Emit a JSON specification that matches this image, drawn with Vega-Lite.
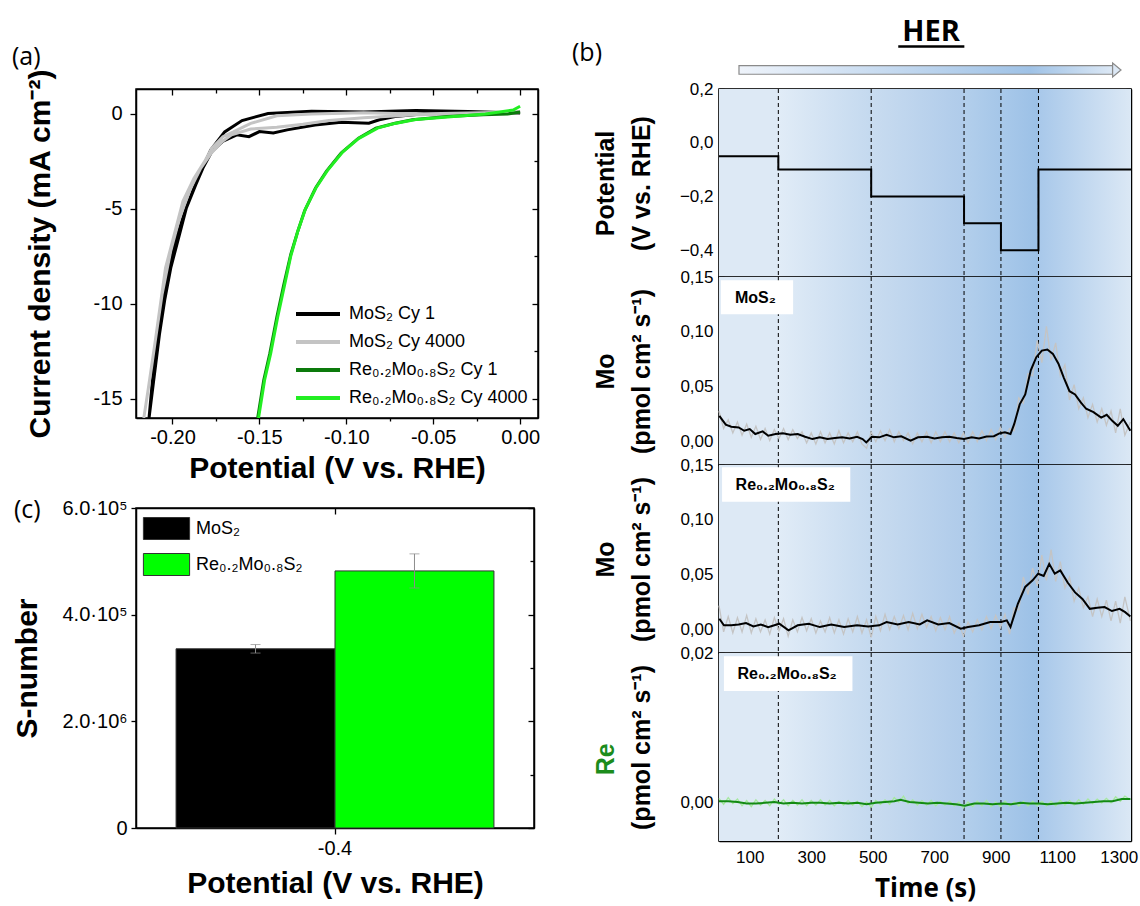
{
 "$schema": "https://vega.github.io/schema/vega-lite/v6.json",
 "background": "white",
 "padding": {"left": 11, "top": 16, "right": 5, "bottom": 10},
 "datasets": {
  "iv": [
   {"curve":"MoS₂ Cy 1","ord":1,"E":0.0,"j":0.05},{"curve":"MoS₂ Cy 1","ord":2,"E":-0.03,"j":0.12},{"curve":"MoS₂ Cy 1","ord":3,"E":-0.06,"j":0.18},{"curve":"MoS₂ Cy 1","ord":4,"E":-0.09,"j":0.1},{"curve":"MoS₂ Cy 1","ord":5,"E":-0.12,"j":0.14},{"curve":"MoS₂ Cy 1","ord":6,"E":-0.145,"j":0.02},{"curve":"MoS₂ Cy 1","ord":7,"E":-0.16,"j":-0.35},{"curve":"MoS₂ Cy 1","ord":8,"E":-0.17,"j":-0.95},{"curve":"MoS₂ Cy 1","ord":9,"E":-0.178,"j":-1.9},{"curve":"MoS₂ Cy 1","ord":10,"E":-0.185,"j":-3.3},{"curve":"MoS₂ Cy 1","ord":11,"E":-0.192,"j":-4.9},{"curve":"MoS₂ Cy 1","ord":12,"E":-0.198,"j":-6.6},{"curve":"MoS₂ Cy 1","ord":13,"E":-0.203,"j":-8.6},{"curve":"MoS₂ Cy 1","ord":14,"E":-0.207,"j":-10.6},{"curve":"MoS₂ Cy 1","ord":15,"E":-0.2105,"j":-13.0},{"curve":"MoS₂ Cy 1","ord":16,"E":-0.2135,"j":-16.0},{"curve":"MoS₂ Cy 1","ord":17,"E":-0.2108,"j":-14.0},{"curve":"MoS₂ Cy 1","ord":18,"E":-0.2075,"j":-11.6},{"curve":"MoS₂ Cy 1","ord":19,"E":-0.2045,"j":-9.8},{"curve":"MoS₂ Cy 1","ord":20,"E":-0.201,"j":-8.1},{"curve":"MoS₂ Cy 1","ord":21,"E":-0.196,"j":-6.35},{"curve":"MoS₂ Cy 1","ord":22,"E":-0.192,"j":-4.95},{"curve":"MoS₂ Cy 1","ord":23,"E":-0.1866,"j":-3.72},{"curve":"MoS₂ Cy 1","ord":24,"E":-0.1825,"j":-2.85},{"curve":"MoS₂ Cy 1","ord":25,"E":-0.1774,"j":-1.98},{"curve":"MoS₂ Cy 1","ord":26,"E":-0.1712,"j":-1.45},{"curve":"MoS₂ Cy 1","ord":27,"E":-0.163,"j":-1.1},{"curve":"MoS₂ Cy 1","ord":28,"E":-0.156,"j":-1.2},{"curve":"MoS₂ Cy 1","ord":29,"E":-0.15,"j":-0.93},{"curve":"MoS₂ Cy 1","ord":30,"E":-0.142,"j":-1.0},{"curve":"MoS₂ Cy 1","ord":31,"E":-0.134,"j":-0.84},{"curve":"MoS₂ Cy 1","ord":32,"E":-0.118,"j":-0.58},{"curve":"MoS₂ Cy 1","ord":33,"E":-0.103,"j":-0.44},{"curve":"MoS₂ Cy 1","ord":34,"E":-0.087,"j":-0.49},{"curve":"MoS₂ Cy 1","ord":35,"E":-0.081,"j":-0.31},{"curve":"MoS₂ Cy 1","ord":36,"E":-0.072,"j":-0.14},{"curve":"MoS₂ Cy 1","ord":37,"E":-0.052,"j":0.03},{"curve":"MoS₂ Cy 1","ord":38,"E":-0.031,"j":0.03},{"curve":"MoS₂ Cy 1","ord":39,"E":0.0,"j":0.08},
   {"curve":"MoS₂ Cy 4000","ord":1,"E":0.0,"j":0.1},{"curve":"MoS₂ Cy 4000","ord":2,"E":-0.03,"j":0.05},{"curve":"MoS₂ Cy 4000","ord":3,"E":-0.06,"j":0.0},{"curve":"MoS₂ Cy 4000","ord":4,"E":-0.09,"j":0.06},{"curve":"MoS₂ Cy 4000","ord":5,"E":-0.12,"j":0.0},{"curve":"MoS₂ Cy 4000","ord":6,"E":-0.14,"j":-0.1},{"curve":"MoS₂ Cy 4000","ord":7,"E":-0.155,"j":-0.5},{"curve":"MoS₂ Cy 4000","ord":8,"E":-0.165,"j":-0.95},{"curve":"MoS₂ Cy 4000","ord":9,"E":-0.171,"j":-1.2},{"curve":"MoS₂ Cy 4000","ord":10,"E":-0.1774,"j":-1.8},{"curve":"MoS₂ Cy 4000","ord":11,"E":-0.1815,"j":-2.5},{"curve":"MoS₂ Cy 4000","ord":12,"E":-0.1877,"j":-3.4},{"curve":"MoS₂ Cy 4000","ord":13,"E":-0.194,"j":-4.6},{"curve":"MoS₂ Cy 4000","ord":14,"E":-0.199,"j":-6.35},{"curve":"MoS₂ Cy 4000","ord":15,"E":-0.204,"j":-8.1},{"curve":"MoS₂ Cy 4000","ord":16,"E":-0.208,"j":-10.7},{"curve":"MoS₂ Cy 4000","ord":17,"E":-0.212,"j":-13.3},{"curve":"MoS₂ Cy 4000","ord":18,"E":-0.2165,"j":-16.0},{"curve":"MoS₂ Cy 4000","ord":19,"E":-0.214,"j":-14.5},{"curve":"MoS₂ Cy 4000","ord":20,"E":-0.21,"j":-12.0},{"curve":"MoS₂ Cy 4000","ord":21,"E":-0.206,"j":-9.5},{"curve":"MoS₂ Cy 4000","ord":22,"E":-0.201,"j":-7.2},{"curve":"MoS₂ Cy 4000","ord":23,"E":-0.196,"j":-5.5},{"curve":"MoS₂ Cy 4000","ord":24,"E":-0.19,"j":-4.0},{"curve":"MoS₂ Cy 4000","ord":25,"E":-0.184,"j":-2.9},{"curve":"MoS₂ Cy 4000","ord":26,"E":-0.178,"j":-2.1},{"curve":"MoS₂ Cy 4000","ord":27,"E":-0.172,"j":-1.5},{"curve":"MoS₂ Cy 4000","ord":28,"E":-0.166,"j":-1.1},{"curve":"MoS₂ Cy 4000","ord":29,"E":-0.155,"j":-0.8},{"curve":"MoS₂ Cy 4000","ord":30,"E":-0.14,"j":-0.7},{"curve":"MoS₂ Cy 4000","ord":31,"E":-0.125,"j":-0.55},{"curve":"MoS₂ Cy 4000","ord":32,"E":-0.11,"j":-0.35},{"curve":"MoS₂ Cy 4000","ord":33,"E":-0.09,"j":-0.2},{"curve":"MoS₂ Cy 4000","ord":34,"E":-0.06,"j":-0.05},{"curve":"MoS₂ Cy 4000","ord":35,"E":-0.03,"j":0.0},{"curve":"MoS₂ Cy 4000","ord":36,"E":0.0,"j":0.12},
   {"curve":"Re₀.₂Mo₀.₈S₂ Cy 1","ord":1,"E":0.0,"j":0.1},{"curve":"Re₀.₂Mo₀.₈S₂ Cy 1","ord":2,"E":-0.007,"j":0.0},{"curve":"Re₀.₂Mo₀.₈S₂ Cy 1","ord":3,"E":-0.021,"j":-0.05},{"curve":"Re₀.₂Mo₀.₈S₂ Cy 1","ord":4,"E":-0.042,"j":-0.14},{"curve":"Re₀.₂Mo₀.₈S₂ Cy 1","ord":5,"E":-0.062,"j":-0.31},{"curve":"Re₀.₂Mo₀.₈S₂ Cy 1","ord":6,"E":-0.072,"j":-0.49},{"curve":"Re₀.₂Mo₀.₈S₂ Cy 1","ord":7,"E":-0.083,"j":-0.75},{"curve":"Re₀.₂Mo₀.₈S₂ Cy 1","ord":8,"E":-0.093,"j":-1.28},{"curve":"Re₀.₂Mo₀.₈S₂ Cy 1","ord":9,"E":-0.103,"j":-2.06},{"curve":"Re₀.₂Mo₀.₈S₂ Cy 1","ord":10,"E":-0.1115,"j":-3.02},{"curve":"Re₀.₂Mo₀.₈S₂ Cy 1","ord":11,"E":-0.1177,"j":-3.9},{"curve":"Re₀.₂Mo₀.₈S₂ Cy 1","ord":12,"E":-0.124,"j":-5.1},{"curve":"Re₀.₂Mo₀.₈S₂ Cy 1","ord":13,"E":-0.128,"j":-6.2},{"curve":"Re₀.₂Mo₀.₈S₂ Cy 1","ord":14,"E":-0.132,"j":-7.4},{"curve":"Re₀.₂Mo₀.₈S₂ Cy 1","ord":15,"E":-0.136,"j":-9.0},{"curve":"Re₀.₂Mo₀.₈S₂ Cy 1","ord":16,"E":-0.14,"j":-10.7},{"curve":"Re₀.₂Mo₀.₈S₂ Cy 1","ord":17,"E":-0.144,"j":-12.6},{"curve":"Re₀.₂Mo₀.₈S₂ Cy 1","ord":18,"E":-0.1475,"j":-14.0},{"curve":"Re₀.₂Mo₀.₈S₂ Cy 1","ord":19,"E":-0.151,"j":-16.0},
   {"curve":"Re₀.₂Mo₀.₈S₂ Cy 4000","ord":1,"E":0.0,"j":0.4},{"curve":"Re₀.₂Mo₀.₈S₂ Cy 4000","ord":2,"E":-0.004,"j":0.2},{"curve":"Re₀.₂Mo₀.₈S₂ Cy 4000","ord":3,"E":-0.02,"j":0.0},{"curve":"Re₀.₂Mo₀.₈S₂ Cy 4000","ord":4,"E":-0.04,"j":-0.15},{"curve":"Re₀.₂Mo₀.₈S₂ Cy 4000","ord":5,"E":-0.06,"j":-0.3},{"curve":"Re₀.₂Mo₀.₈S₂ Cy 4000","ord":6,"E":-0.072,"j":-0.5},{"curve":"Re₀.₂Mo₀.₈S₂ Cy 4000","ord":7,"E":-0.082,"j":-0.75},{"curve":"Re₀.₂Mo₀.₈S₂ Cy 4000","ord":8,"E":-0.093,"j":-1.3},{"curve":"Re₀.₂Mo₀.₈S₂ Cy 4000","ord":9,"E":-0.102,"j":-2.0},{"curve":"Re₀.₂Mo₀.₈S₂ Cy 4000","ord":10,"E":-0.111,"j":-3.0},{"curve":"Re₀.₂Mo₀.₈S₂ Cy 4000","ord":11,"E":-0.1175,"j":-3.9},{"curve":"Re₀.₂Mo₀.₈S₂ Cy 4000","ord":12,"E":-0.1235,"j":-5.0},{"curve":"Re₀.₂Mo₀.₈S₂ Cy 4000","ord":13,"E":-0.128,"j":-6.2},{"curve":"Re₀.₂Mo₀.₈S₂ Cy 4000","ord":14,"E":-0.132,"j":-7.5},{"curve":"Re₀.₂Mo₀.₈S₂ Cy 4000","ord":15,"E":-0.1355,"j":-9.0},{"curve":"Re₀.₂Mo₀.₈S₂ Cy 4000","ord":16,"E":-0.1395,"j":-10.7},{"curve":"Re₀.₂Mo₀.₈S₂ Cy 4000","ord":17,"E":-0.1435,"j":-12.6},{"curve":"Re₀.₂Mo₀.₈S₂ Cy 4000","ord":18,"E":-0.147,"j":-14.0},{"curve":"Re₀.₂Mo₀.₈S₂ Cy 4000","ord":19,"E":-0.1505,"j":-16.0}
  ],
  "bars": [
   {"pot":"-0.4","sample":"MoS₂","s":336000,"lo":328000,"hi":344000},
   {"pot":"-0.4","sample":"Re₀.₂Mo₀.₈S₂","s":482000,"lo":450000,"hi":514000}
  ],
  "potential": [
   {"t":0,"E":-0.05},{"t":193,"E":-0.1},{"t":495,"E":-0.2},{"t":797,"E":-0.3},{"t":917,"E":-0.4},{"t":1039,"E":-0.1},{"t":1340,"E":-0.1}
  ],
  "steps": [{"t":193},{"t":495},{"t":797},{"t":917},{"t":1039}],
  "mos2raw": [
   {"t":0,"v":0.028},{"t":15,"v":0.012},{"t":30,"v":0.020},{"t":45,"v":0.008},{"t":60,"v":0.018},{"t":75,"v":0.006},{"t":90,"v":0.016},{"t":105,"v":0.004},{"t":120,"v":0.014},{"t":135,"v":0.002},{"t":150,"v":0.012},{"t":165,"v":0.001},{"t":180,"v":0.011},{"t":195,"v":0.003},{"t":210,"v":0.012},{"t":225,"v":0.002},{"t":240,"v":0.011},{"t":255,"v":0.003},{"t":270,"v":0.009},{"t":285,"v":-0.001},{"t":300,"v":0.008},{"t":315,"v":-0.002},{"t":330,"v":0.009},{"t":345,"v":-0.001},{"t":360,"v":0.008},{"t":375,"v":-0.002},{"t":390,"v":0.010},{"t":405,"v":-0.001},{"t":420,"v":0.008},{"t":435,"v":0.0},{"t":450,"v":0.009},{"t":465,"v":-0.002},{"t":480,"v":-0.006},{"t":495,"v":0.009},{"t":510,"v":0.0},{"t":525,"v":0.010},{"t":540,"v":0.001},{"t":555,"v":0.011},{"t":570,"v":0.0},{"t":585,"v":0.009},{"t":600,"v":0.001},{"t":615,"v":0.008},{"t":630,"v":-0.002},{"t":645,"v":0.008},{"t":660,"v":0.0},{"t":675,"v":0.009},{"t":690,"v":-0.001},{"t":705,"v":0.009},{"t":720,"v":0.0},{"t":735,"v":0.009},{"t":750,"v":0.0},{"t":765,"v":0.008},{"t":780,"v":-0.001},{"t":795,"v":0.008},{"t":810,"v":-0.001},{"t":825,"v":0.009},{"t":840,"v":0.0},{"t":855,"v":0.010},{"t":870,"v":0.001},{"t":885,"v":0.011},{"t":900,"v":0.002},{"t":915,"v":0.013},{"t":930,"v":0.004},{"t":945,"v":0.012},{"t":960,"v":0.010},{"t":975,"v":0.040},{"t":990,"v":0.035},{"t":1005,"v":0.062},{"t":1020,"v":0.060},{"t":1035,"v":0.092},{"t":1050,"v":0.072},{"t":1065,"v":0.105},{"t":1080,"v":0.074},{"t":1095,"v":0.090},{"t":1110,"v":0.060},{"t":1125,"v":0.070},{"t":1140,"v":0.038},{"t":1155,"v":0.052},{"t":1170,"v":0.030},{"t":1185,"v":0.040},{"t":1200,"v":0.022},{"t":1215,"v":0.034},{"t":1230,"v":0.018},{"t":1245,"v":0.030},{"t":1260,"v":0.015},{"t":1275,"v":0.028},{"t":1290,"v":0.008},{"t":1305,"v":0.030},{"t":1320,"v":0.006},{"t":1338,"v":0.018}
  ],
  "mos2smooth": [
   {"t":1,"v":0.0236},{"t":22,"v":0.0155},{"t":40,"v":0.0136},{"t":64,"v":0.013},{"t":82,"v":0.010},{"t":100,"v":0.0115},{"t":118,"v":0.007},{"t":142,"v":0.0094},{"t":160,"v":0.0055},{"t":184,"v":0.007},{"t":208,"v":0.0076},{"t":232,"v":0.0064},{"t":256,"v":0.007},{"t":280,"v":0.0045},{"t":304,"v":0.0024},{"t":328,"v":0.004},{"t":353,"v":0.0024},{"t":377,"v":0.0033},{"t":401,"v":0.004},{"t":425,"v":0.003},{"t":449,"v":0.0045},{"t":467,"v":0.0024},{"t":479,"v":-0.0006},{"t":497,"v":0.0045},{"t":521,"v":0.004},{"t":545,"v":0.0064},{"t":569,"v":0.004},{"t":593,"v":0.005},{"t":623,"v":0.001},{"t":647,"v":0.004},{"t":677,"v":0.0045},{"t":701,"v":0.003},{"t":725,"v":0.004},{"t":749,"v":0.0045},{"t":773,"v":0.0033},{"t":797,"v":0.0024},{"t":822,"v":0.004},{"t":846,"v":0.003},{"t":870,"v":0.0048},{"t":894,"v":0.005},{"t":912,"v":0.0076},{"t":930,"v":0.0085},{"t":948,"v":0.007},{"t":960,"v":0.016},{"t":978,"v":0.034},{"t":996,"v":0.043},{"t":1014,"v":0.065},{"t":1032,"v":0.077},{"t":1050,"v":0.083},{"t":1068,"v":0.084},{"t":1086,"v":0.080},{"t":1104,"v":0.071},{"t":1122,"v":0.058},{"t":1140,"v":0.046},{"t":1158,"v":0.043},{"t":1176,"v":0.036},{"t":1194,"v":0.030},{"t":1218,"v":0.027},{"t":1243,"v":0.022},{"t":1261,"v":0.0245},{"t":1279,"v":0.019},{"t":1297,"v":0.0145},{"t":1315,"v":0.0206},{"t":1338,"v":0.010}
  ],
  "remoraw": [
   {"t":0,"v":0.022},{"t":15,"v":-0.002},{"t":30,"v":0.012},{"t":45,"v":-0.003},{"t":60,"v":0.011},{"t":75,"v":-0.002},{"t":90,"v":0.013},{"t":105,"v":-0.003},{"t":120,"v":0.010},{"t":135,"v":-0.002},{"t":150,"v":0.009},{"t":165,"v":-0.004},{"t":180,"v":0.011},{"t":195,"v":-0.001},{"t":210,"v":0.010},{"t":225,"v":-0.006},{"t":240,"v":0.009},{"t":255,"v":-0.002},{"t":270,"v":0.011},{"t":285,"v":-0.001},{"t":300,"v":0.010},{"t":315,"v":-0.003},{"t":330,"v":0.008},{"t":345,"v":-0.002},{"t":360,"v":0.011},{"t":375,"v":-0.003},{"t":390,"v":0.009},{"t":405,"v":-0.004},{"t":420,"v":0.010},{"t":435,"v":-0.002},{"t":450,"v":0.012},{"t":465,"v":-0.003},{"t":480,"v":0.009},{"t":495,"v":-0.007},{"t":510,"v":0.012},{"t":525,"v":-0.001},{"t":540,"v":0.014},{"t":555,"v":0.0},{"t":570,"v":0.012},{"t":585,"v":0.001},{"t":600,"v":0.013},{"t":615,"v":0.0},{"t":630,"v":0.015},{"t":645,"v":0.001},{"t":660,"v":0.014},{"t":675,"v":0.002},{"t":690,"v":0.012},{"t":705,"v":-0.001},{"t":720,"v":0.011},{"t":735,"v":0.0},{"t":750,"v":0.012},{"t":765,"v":-0.003},{"t":780,"v":0.006},{"t":795,"v":-0.006},{"t":810,"v":0.007},{"t":825,"v":-0.002},{"t":840,"v":0.009},{"t":855,"v":0.0},{"t":870,"v":0.012},{"t":885,"v":0.001},{"t":900,"v":0.013},{"t":915,"v":0.002},{"t":930,"v":0.014},{"t":945,"v":-0.004},{"t":960,"v":0.020},{"t":975,"v":0.018},{"t":990,"v":0.048},{"t":1005,"v":0.032},{"t":1020,"v":0.056},{"t":1035,"v":0.040},{"t":1050,"v":0.068},{"t":1065,"v":0.045},{"t":1080,"v":0.073},{"t":1095,"v":0.044},{"t":1110,"v":0.062},{"t":1125,"v":0.038},{"t":1140,"v":0.048},{"t":1155,"v":0.026},{"t":1170,"v":0.038},{"t":1185,"v":0.020},{"t":1200,"v":0.030},{"t":1215,"v":0.012},{"t":1230,"v":0.028},{"t":1245,"v":0.012},{"t":1260,"v":0.027},{"t":1275,"v":0.008},{"t":1290,"v":0.026},{"t":1305,"v":0.006},{"t":1320,"v":0.030},{"t":1338,"v":0.008}
  ],
  "remosmooth": [
   {"t":1,"v":0.010},{"t":16,"v":0.004},{"t":40,"v":0.004},{"t":64,"v":0.0048},{"t":88,"v":0.006},{"t":112,"v":0.003},{"t":136,"v":0.0048},{"t":160,"v":0.0024},{"t":196,"v":0.0055},{"t":226,"v":-0.0006},{"t":256,"v":0.004},{"t":292,"v":0.0055},{"t":328,"v":0.0024},{"t":365,"v":0.0048},{"t":407,"v":0.0024},{"t":449,"v":0.004},{"t":485,"v":0.003},{"t":521,"v":0.004},{"t":545,"v":0.007},{"t":581,"v":0.0048},{"t":617,"v":0.007},{"t":653,"v":0.0048},{"t":677,"v":0.0085},{"t":713,"v":0.0048},{"t":749,"v":0.006},{"t":786,"v":0.001},{"t":810,"v":0.0024},{"t":846,"v":0.004},{"t":882,"v":0.007},{"t":918,"v":0.007},{"t":936,"v":0.0085},{"t":948,"v":0.0024},{"t":972,"v":0.0236},{"t":996,"v":0.039},{"t":1020,"v":0.045},{"t":1038,"v":0.051},{"t":1056,"v":0.049},{"t":1074,"v":0.060},{"t":1092,"v":0.051},{"t":1110,"v":0.054},{"t":1134,"v":0.043},{"t":1158,"v":0.034},{"t":1182,"v":0.028},{"t":1206,"v":0.019},{"t":1230,"v":0.020},{"t":1254,"v":0.0206},{"t":1278,"v":0.017},{"t":1303,"v":0.019},{"t":1321,"v":0.016},{"t":1338,"v":0.012}
  ],
  "reraw": [
   {"t":0,"v":0.0006},{"t":15,"v":-0.0002},{"t":30,"v":0.0007},{"t":45,"v":-0.0001},{"t":60,"v":0.0005},{"t":75,"v":-0.0004},{"t":90,"v":0.0003},{"t":105,"v":-0.0005},{"t":120,"v":0.0004},{"t":135,"v":-0.0003},{"t":150,"v":0.0003},{"t":165,"v":-0.0004},{"t":180,"v":0.0005},{"t":195,"v":-0.0002},{"t":210,"v":0.0004},{"t":225,"v":-0.0004},{"t":240,"v":0.0003},{"t":255,"v":-0.0003},{"t":270,"v":0.0004},{"t":285,"v":-0.0004},{"t":300,"v":0.0003},{"t":315,"v":-0.0003},{"t":330,"v":0.0004},{"t":345,"v":-0.0003},{"t":360,"v":0.0003},{"t":375,"v":-0.0004},{"t":390,"v":0.0002},{"t":405,"v":-0.0003},{"t":420,"v":0.0003},{"t":435,"v":-0.0003},{"t":450,"v":0.0002},{"t":465,"v":-0.0005},{"t":480,"v":0.0001},{"t":495,"v":-0.0006},{"t":510,"v":0.0003},{"t":525,"v":-0.0002},{"t":540,"v":0.0004},{"t":555,"v":-0.0002},{"t":570,"v":0.0007},{"t":585,"v":0.0001},{"t":600,"v":0.0009},{"t":615,"v":-0.0001},{"t":630,"v":0.0004},{"t":645,"v":-0.0003},{"t":660,"v":0.0003},{"t":675,"v":-0.0003},{"t":690,"v":0.0003},{"t":705,"v":-0.0004},{"t":720,"v":0.0002},{"t":735,"v":-0.0003},{"t":750,"v":0.0002},{"t":765,"v":-0.0004},{"t":780,"v":0.0001},{"t":795,"v":-0.0007},{"t":810,"v":0.0001},{"t":825,"v":-0.0005},{"t":840,"v":0.0002},{"t":855,"v":-0.0004},{"t":870,"v":0.0003},{"t":885,"v":-0.0005},{"t":900,"v":0.0001},{"t":915,"v":-0.0005},{"t":930,"v":0.0002},{"t":945,"v":-0.0004},{"t":960,"v":0.0001},{"t":975,"v":-0.0004},{"t":990,"v":0.0002},{"t":1005,"v":-0.0004},{"t":1020,"v":0.0002},{"t":1035,"v":-0.0004},{"t":1050,"v":0.0002},{"t":1065,"v":-0.0004},{"t":1080,"v":0.0002},{"t":1095,"v":-0.0004},{"t":1110,"v":0.0003},{"t":1125,"v":-0.0003},{"t":1140,"v":0.0003},{"t":1155,"v":-0.0003},{"t":1170,"v":0.0004},{"t":1185,"v":-0.0002},{"t":1200,"v":0.0005},{"t":1215,"v":-0.0001},{"t":1230,"v":0.0005},{"t":1245,"v":0.0},{"t":1260,"v":0.0006},{"t":1275,"v":0.0},{"t":1290,"v":0.0008},{"t":1305,"v":0.0002},{"t":1320,"v":0.0009},{"t":1338,"v":0.0004}
  ],
  "resmooth": [
   {"t":0,"v":0.0002},{"t":30,"v":0.0002},{"t":60,"v":0.0001},{"t":90,"v":-0.0001},{"t":120,"v":-0.0001},{"t":150,"v":0.0},{"t":180,"v":0.0001},{"t":210,"v":-0.0001},{"t":240,"v":0.0},{"t":270,"v":-0.0001},{"t":300,"v":0.0},{"t":330,"v":0.0},{"t":360,"v":-0.0001},{"t":390,"v":0.0},{"t":420,"v":-0.0001},{"t":450,"v":0.0},{"t":480,"v":-0.0002},{"t":510,"v":0.0},{"t":540,"v":0.0001},{"t":570,"v":0.0002},{"t":590,"v":0.0004},{"t":620,"v":0.0001},{"t":650,"v":0.0},{"t":680,"v":-0.0001},{"t":710,"v":0.0},{"t":740,"v":-0.0001},{"t":770,"v":-0.0002},{"t":800,"v":-0.0004},{"t":830,"v":-0.0001},{"t":860,"v":-0.0001},{"t":890,"v":-0.0002},{"t":920,"v":-0.0001},{"t":950,"v":-0.0002},{"t":980,"v":0.0},{"t":1010,"v":-0.0001},{"t":1040,"v":-0.0001},{"t":1070,"v":-0.0002},{"t":1100,"v":-0.0001},{"t":1130,"v":0.0},{"t":1160,"v":-0.0001},{"t":1190,"v":0.0},{"t":1220,"v":0.0001},{"t":1250,"v":0.0002},{"t":1280,"v":0.0002},{"t":1310,"v":0.0005},{"t":1338,"v":0.0005}
  ]
 },
 "hconcat": [
  {
   "bounds": "flush",
   "spacing": 90,
   "vconcat": [
    {
     "width": 402, "height": 329,
     "title": {"text": "(a)", "anchor": "start", "frame": "group", "dx": -124, "offset": -2, "fontSize": 25, "fontWeight": "normal", "font": "Open Sans", "color": "black"},
     "layer": [
      {
       "data": {"name": "iv"},
       "mark": {"type": "line", "strokeWidth": 3, "clip": true},
       "encoding": {
        "x": {"field": "E", "type": "quantitative", "scale": {"domain": [-0.221, 0.0103], "nice": false, "zero": false},
              "axis": {"orient": "bottom", "values": [-0.2,-0.175,-0.15,-0.125,-0.1,-0.075,-0.05,-0.025,0],
                       "labelExpr": "abs(datum.value*20 - round(datum.value*20)) < 0.001 ? replace(format(datum.value, '.2f'), '−', '-') : ''",
                       "tickSize": {"condition": {"test": "abs(datum.value*20 - round(datum.value*20)) < 0.001", "value": 6}, "value": 3},
                       "labelFontSize": 20, "labelPadding": 3, "title": "Potential (V vs. RHE)", "titleFontSize": 30, "titleFontWeight": "bold", "titlePadding": 6}},
        "y": {"field": "j", "type": "quantitative", "scale": {"domain": [-16, 1.31], "nice": false, "zero": false},
              "axis": {"orient": "left", "values": [0,-5,-10,-15],
                       "labelExpr": "replace(format(datum.value, 'd'), '−', '-')",
                       "tickSize": 6, "labelFontSize": 20, "labelPadding": 8,
                       "title": "Current density (mA cm⁻²)", "titleFontSize": 30, "titleFontWeight": "bold", "titlePadding": 38}},
        "color": {"field": "curve", "type": "nominal",
                  "scale": {"domain": ["MoS₂ Cy 1","MoS₂ Cy 4000","Re₀.₂Mo₀.₈S₂ Cy 1","Re₀.₂Mo₀.₈S₂ Cy 4000"], "range": ["#000000","#c4c4c4","#0c7a0c","#22ee22"]},
                  "legend": {"orient": "none", "legendX": 169, "legendY": 212, "title": null, "symbolType": "M-2,0H2", "symbolSize": 484, "symbolStrokeWidth": 4, "labelFontSize": 18, "labelFont": "Liberation Sans", "labelOffset": 18, "labelLimit": 0, "rowPadding": 6, "padding": 0, "labelColor": "black"}},
        "order": {"field": "ord", "type": "quantitative"}
       }
      },
      {
       "data": {"name": "iv"},
       "mark": {"type": "point", "opacity": 0},
       "encoding": {
        "x": {"field": "E", "type": "quantitative", "axis": {"orient": "top", "labels": false, "title": null, "values": [-0.2,-0.175,-0.15,-0.125,-0.1,-0.075,-0.05,-0.025,0],
              "tickSize": {"condition": {"test": "abs(datum.value*20 - round(datum.value*20)) < 0.001", "value": -6}, "value": -4}}},
        "y": {"field": "j", "type": "quantitative", "axis": {"orient": "right", "labels": false, "title": null, "values": [0,-2.5,-5,-7.5,-10,-12.5,-15],
              "tickSize": {"condition": {"test": "datum.value % 5 == 0", "value": -6}, "value": -4}}}
       }
      }
     ],
     "resolve": {"axis": {"x": "independent", "y": "independent"}}
    },
    {
     "width": 398, "height": 320,
     "title": {"text": "(c)", "anchor": "start", "frame": "group", "dx": -122, "dy": 25, "offset": 0, "fontSize": 25, "fontWeight": "normal", "font": "Open Sans", "color": "black"},
     "layer": [
      {
       "data": {"name": "bars"},
       "mark": {"type": "bar", "stroke": "#333333", "strokeWidth": 1},
       "encoding": {
        "x": {"field": "pot", "type": "nominal", "scale": {"paddingInner": 0, "paddingOuter": 0.126},
              "axis": {"orient": "bottom", "labelAngle": 0, "labelFontSize": 20, "tickSize": 6, "labelPadding": 4, "title": "Potential (V vs. RHE)", "titleFontSize": 30, "titleFontWeight": "bold", "titlePadding": 10}},
        "xOffset": {"field": "sample", "type": "nominal", "sort": ["MoS₂", "Re₀.₂Mo₀.₈S₂"], "scale": {"paddingInner": 0, "paddingOuter": 0}},
        "y": {"field": "s", "type": "quantitative", "scale": {"domain": [0, 600000], "nice": false},
              "axis": {"orient": "left", "values": [0, 200000, 400000, 600000],
                       "labelExpr": "datum.value == 600000 ? '6.0·10⁵' : datum.value == 400000 ? '4.0·10⁵' : datum.value == 200000 ? '2.0·10⁶' : '0'",
                       "labelFont": "Liberation Sans", "labelFontSize": 20, "tickSize": 5, "labelPadding": 4,
                       "title": "S-number", "titleFontSize": 30, "titleFontWeight": "bold", "titlePadding": 20}},
        "fill": {"field": "sample", "type": "nominal", "scale": {"domain": ["MoS₂", "Re₀.₂Mo₀.₈S₂"], "range": ["#000000", "#00ff00"]},
                  "legend": {"orient": "none", "legendX": 19, "legendY": 428, "title": null, "symbolType": "M-2.1,-1H2.1V1H-2.1Z", "symbolSize": 484, "symbolStrokeColor": "#333333", "symbolStrokeWidth": 1, "symbolOpacity": 1, "labelFontSize": 18, "labelFont": "Liberation Sans", "labelOffset": 18, "labelLimit": 0, "rowPadding": 9, "padding": 0, "labelColor": "black"}}
       }
      },
      {
       "data": {"name": "bars"},
       "mark": {"type": "rule", "color": "#8c8c8c", "strokeWidth": 1},
       "encoding": {
        "x": {"field": "pot", "type": "nominal", "axis": null},
        "xOffset": {"field": "sample", "type": "nominal", "sort": ["MoS₂", "Re₀.₂Mo₀.₈S₂"]},
        "y": {"field": "lo", "type": "quantitative", "axis": null},
        "y2": {"field": "hi"}
       }
      },
      {
       "data": {"name": "bars"},
       "mark": {"type": "tick", "color": "#8c8c8c", "thickness": 1, "size": 10},
       "encoding": {
        "x": {"field": "pot", "type": "nominal", "axis": null},
        "xOffset": {"field": "sample", "type": "nominal", "sort": ["MoS₂", "Re₀.₂Mo₀.₈S₂"]},
        "y": {"field": "lo", "type": "quantitative", "axis": null}
       }
      },
      {
       "data": {"name": "bars"},
       "mark": {"type": "tick", "color": "#8c8c8c", "thickness": 1, "size": 10},
       "encoding": {
        "x": {"field": "pot", "type": "nominal", "axis": null},
        "xOffset": {"field": "sample", "type": "nominal", "sort": ["MoS₂", "Re₀.₂Mo₀.₈S₂"]},
        "y": {"field": "hi", "type": "quantitative", "axis": null}
       }
      },
      {
       "data": {"name": "bars"},
       "mark": {"type": "point", "opacity": 0},
       "encoding": {
        "x": {"field": "pot", "type": "nominal", "axis": {"orient": "top", "labels": false, "title": null, "tickSize": -6}},
        "y": {"field": "s", "type": "quantitative", "axis": {"orient": "right", "labels": false, "title": null, "values": [0,100000,200000,300000,400000,500000,600000], "tickSize": {"condition": {"test": "datum.value % 200000 == 0", "value": -6}, "value": -4}}}
       }
      }
     ],
     "resolve": {"axis": {"x": "independent", "y": "independent"}}
    }
   ]
  },
  {
   "bounds": "flush",
   "spacing": 0,
   "vconcat": [
    {
     "width": 412, "height": 188,
     "title": {"text": "(b)", "anchor": "start", "frame": "group", "dx": -147, "offset": -48, "fontSize": 25, "fontWeight": "normal", "font": "Open Sans", "color": "black"},
     "layer": [
      {"data": {"values": [{"k": "bg"}]},
       "mark": {"type": "rect", "fill": {"gradient": "linear", "x1": 0, "y1": 0, "x2": 1, "y2": 0, "stops": [{"offset": 0, "color": "#dde9f5"}, {"offset": 0.144, "color": "#dde9f5"}, {"offset": 0.1441, "color": "#e1ecf7"}, {"offset": 0.369, "color": "#c4d9ef"}, {"offset": 0.3691, "color": "#c9dcf0"}, {"offset": 0.595, "color": "#afcbea"}, {"offset": 0.5951, "color": "#b3cfec"}, {"offset": 0.684, "color": "#a5c6e8"}, {"offset": 0.6841, "color": "#a9c9ea"}, {"offset": 0.775, "color": "#9bc0e6"}, {"offset": 0.7751, "color": "#a8c8ea"}, {"offset": 1, "color": "#dbe8f5"}]}},
       "encoding": {"x": {"datum": 0, "type": "quantitative", "scale": {"domain": [0, 1340], "nice": false, "zero": false}, "axis": null}, "x2": {"datum": 1340}}},
      {"data": {"name": "steps"}, "mark": {"type": "rule", "color": "black", "strokeWidth": 1, "strokeDash": [4, 3]},
       "encoding": {"x": {"field": "t", "type": "quantitative", "axis": null}}},
      {"data": {"name": "potential"}, "mark": {"type": "line", "interpolate": "step-after", "color": "black", "strokeWidth": 2},
       "encoding": {
        "x": {"field": "t", "type": "quantitative", "axis": {"orient": "bottom", "values": [100,200,300,400,500,600,700,800,900,1000,1100,1200,1300], "labels": false, "title": null, "tickSize": -5}},
        "y": {"field": "E", "type": "quantitative", "scale": {"domain": [-0.5, 0.2], "nice": false, "zero": false},
              "axis": {"orient": "left", "values": [0.2, 0.1, 0, -0.1, -0.2, -0.3, -0.4],
                       "labelExpr": "round(datum.value*10) % 2 == 0 ? replace(replace(format(datum.value, '.1f'), '.', ','), '-', '−') : ''",
                       "tickSize": -5, "labelPadding": 11, "labelFontSize": 17,
                       "title": ["Potential", "(V vs. RHE)"], "titleFontSize": 25, "titleFontWeight": "bold", "titleLineHeight": 36, "titlePadding": 25}}
       }},
      {"data": {"name": "potential"}, "mark": {"type": "point", "opacity": 0},
       "encoding": {
        "x": {"field": "t", "type": "quantitative", "axis": {"orient": "top", "values": [100,200,300,400,500,600,700,800,900,1000,1100,1200,1300], "labels": false, "title": null, "tickSize": -5}},
        "y": {"field": "E", "type": "quantitative", "axis": {"orient": "right", "values": [0.2, 0.1, 0, -0.1, -0.2, -0.3, -0.4], "labels": false, "title": null, "tickSize": -5}}
       }},
      {"data": {"values": [{"label": "HER"}]}, "mark": {"type": "text", "font": "Open Sans", "fontSize": 29, "fontWeight": "bold", "align": "center", "baseline": "alphabetic", "color": "black"},
       "encoding": {"x": {"datum": 690, "type": "quantitative", "axis": null}, "y": {"datum": 0.38, "type": "quantitative", "axis": null}, "text": {"field": "label"}}},
      {"data": {"values": [{"label": "HER"}]}, "mark": {"type": "rule", "color": "black", "strokeWidth": 2.5},
       "encoding": {"x": {"datum": 583, "type": "quantitative", "axis": null}, "x2": {"datum": 798}, "y": {"datum": 0.358, "type": "quantitative", "axis": null}}},
      {"data": {"values": [{"label": "arrow"}]},
       "mark": {"type": "rect", "stroke": "#8a8a8a", "strokeWidth": 1.2, "fill": {"gradient": "linear", "x1": 0, "y1": 0, "x2": 1, "y2": 0, "stops": [{"offset": 0, "color": "#eef3fa"}, {"offset": 0.78, "color": "#9fc2e6"}, {"offset": 1, "color": "#dce8f5"}]}},
       "encoding": {"x": {"datum": 65, "type": "quantitative", "axis": null}, "x2": {"datum": 1280}, "y": {"datum": 0.255, "type": "quantitative", "axis": null}, "y2": {"datum": 0.287}}},
      {"data": {"values": [{"label": "arrow"}]},
       "mark": {"type": "point", "shape": "M-0.3,-1L0.9,0L-0.3,1Z", "size": 196, "filled": true, "fill": "#dce8f5", "stroke": "#8a8a8a", "strokeWidth": 1.2, "opacity": 1},
       "encoding": {"x": {"datum": 1287, "type": "quantitative", "axis": null}, "y": {"datum": 0.271, "type": "quantitative", "axis": null}}}
     ],
     "resolve": {"axis": {"x": "independent", "y": "independent"}}
    },
    {
     "width": 412, "height": 188,
     "layer": [
      {"data": {"values": [{"k": "bg"}]},
       "mark": {"type": "rect", "fill": {"gradient": "linear", "x1": 0, "y1": 0, "x2": 1, "y2": 0, "stops": [{"offset": 0, "color": "#dde9f5"}, {"offset": 0.144, "color": "#dde9f5"}, {"offset": 0.1441, "color": "#e1ecf7"}, {"offset": 0.369, "color": "#c4d9ef"}, {"offset": 0.3691, "color": "#c9dcf0"}, {"offset": 0.595, "color": "#afcbea"}, {"offset": 0.5951, "color": "#b3cfec"}, {"offset": 0.684, "color": "#a5c6e8"}, {"offset": 0.6841, "color": "#a9c9ea"}, {"offset": 0.775, "color": "#9bc0e6"}, {"offset": 0.7751, "color": "#a8c8ea"}, {"offset": 1, "color": "#dbe8f5"}]}},
       "encoding": {"x": {"datum": 0, "type": "quantitative", "scale": {"domain": [0, 1340], "nice": false, "zero": false}, "axis": null}, "x2": {"datum": 1340}}},
      {"data": {"name": "steps"}, "mark": {"type": "rule", "color": "black", "strokeWidth": 1, "strokeDash": [4, 3]},
       "encoding": {"x": {"field": "t", "type": "quantitative", "axis": null}}},
      {"data": {"name": "mos2raw"}, "mark": {"type": "line", "color": "#c4c4c4", "strokeWidth": 1.3},
       "encoding": {
        "x": {"field": "t", "type": "quantitative", "axis": {"orient": "bottom", "values": [100,200,300,400,500,600,700,800,900,1000,1100,1200,1300], "labels": false, "title": null, "tickSize": -5}},
        "y": {"field": "v", "type": "quantitative", "scale": {"domain": [-0.0212, 0.15], "nice": false, "zero": false},
              "axis": {"orient": "left", "values": [0, 0.025, 0.05, 0.075, 0.1, 0.125, 0.15],
                       "labelExpr": "round(datum.value*40) % 2 == 0 ? replace(format(datum.value, '.2f'), '.', ',') : ''",
                       "tickSize": -5, "labelPadding": 11, "labelFontSize": 17,
                       "title": ["Mo", "(pmol cm² s⁻¹)"], "titleFontSize": 25, "titleFontWeight": "bold", "titleLineHeight": 36, "titlePadding": 25}}
       }},
      {"data": {"name": "mos2smooth"}, "mark": {"type": "line", "color": "black", "strokeWidth": 2},
       "encoding": {"x": {"field": "t", "type": "quantitative", "axis": null}, "y": {"field": "v", "type": "quantitative", "axis": null}}},
      {"data": {"values": [{"label": "MoS₂"}]}, "mark": {"type": "rect", "fill": "white"},
       "encoding": {"x": {"datum": 6, "type": "quantitative", "axis": null}, "x2": {"datum": 241}, "y": {"datum": 0.147, "type": "quantitative", "axis": null}, "y2": {"datum": 0.116}}},
      {"data": {"values": [{"label": "MoS₂"}]}, "mark": {"type": "text", "align": "left", "baseline": "middle", "fontSize": 16, "fontWeight": "bold", "color": "black"},
       "encoding": {"x": {"datum": 52, "type": "quantitative", "axis": null}, "y": {"datum": 0.1305, "type": "quantitative", "axis": null}, "text": {"field": "label"}}},
      {"data": {"name": "mos2smooth"}, "mark": {"type": "point", "opacity": 0},
       "encoding": {
        "x": {"field": "t", "type": "quantitative", "axis": {"orient": "top", "values": [100,200,300,400,500,600,700,800,900,1000,1100,1200,1300], "labels": false, "title": null, "tickSize": -5}},
        "y": {"field": "v", "type": "quantitative", "axis": {"orient": "right", "values": [0, 0.025, 0.05, 0.075, 0.1, 0.125, 0.15], "labels": false, "title": null, "tickSize": -5}}
       }}
     ],
     "resolve": {"axis": {"x": "independent", "y": "independent"}}
    },
    {
     "width": 412, "height": 188,
     "layer": [
      {"data": {"values": [{"k": "bg"}]},
       "mark": {"type": "rect", "fill": {"gradient": "linear", "x1": 0, "y1": 0, "x2": 1, "y2": 0, "stops": [{"offset": 0, "color": "#dde9f5"}, {"offset": 0.144, "color": "#dde9f5"}, {"offset": 0.1441, "color": "#e1ecf7"}, {"offset": 0.369, "color": "#c4d9ef"}, {"offset": 0.3691, "color": "#c9dcf0"}, {"offset": 0.595, "color": "#afcbea"}, {"offset": 0.5951, "color": "#b3cfec"}, {"offset": 0.684, "color": "#a5c6e8"}, {"offset": 0.6841, "color": "#a9c9ea"}, {"offset": 0.775, "color": "#9bc0e6"}, {"offset": 0.7751, "color": "#a8c8ea"}, {"offset": 1, "color": "#dbe8f5"}]}},
       "encoding": {"x": {"datum": 0, "type": "quantitative", "scale": {"domain": [0, 1340], "nice": false, "zero": false}, "axis": null}, "x2": {"datum": 1340}}},
      {"data": {"name": "steps"}, "mark": {"type": "rule", "color": "black", "strokeWidth": 1, "strokeDash": [4, 3]},
       "encoding": {"x": {"field": "t", "type": "quantitative", "axis": null}}},
      {"data": {"name": "remoraw"}, "mark": {"type": "line", "color": "#c4c4c4", "strokeWidth": 1.3},
       "encoding": {
        "x": {"field": "t", "type": "quantitative", "axis": {"orient": "bottom", "values": [100,200,300,400,500,600,700,800,900,1000,1100,1200,1300], "labels": false, "title": null, "tickSize": -5}},
        "y": {"field": "v", "type": "quantitative", "scale": {"domain": [-0.0212, 0.15], "nice": false, "zero": false},
              "axis": {"orient": "left", "values": [0, 0.025, 0.05, 0.075, 0.1, 0.125, 0.15],
                       "labelExpr": "round(datum.value*40) % 2 == 0 ? replace(format(datum.value, '.2f'), '.', ',') : ''",
                       "tickSize": -5, "labelPadding": 11, "labelFontSize": 17,
                       "title": ["Mo", "(pmol cm² s⁻¹)"], "titleFontSize": 25, "titleFontWeight": "bold", "titleLineHeight": 36, "titlePadding": 25}}
       }},
      {"data": {"name": "remosmooth"}, "mark": {"type": "line", "color": "black", "strokeWidth": 2},
       "encoding": {"x": {"field": "t", "type": "quantitative", "axis": null}, "y": {"field": "v", "type": "quantitative", "axis": null}}},
      {"data": {"values": [{"label": "Re₀.₂Mo₀.₈S₂"}]}, "mark": {"type": "rect", "fill": "white"},
       "encoding": {"x": {"datum": 10, "type": "quantitative", "axis": null}, "x2": {"datum": 427}, "y": {"datum": 0.148, "type": "quantitative", "axis": null}, "y2": {"datum": 0.1166}}},
      {"data": {"values": [{"label": "Re₀.₂Mo₀.₈S₂"}]}, "mark": {"type": "text", "align": "left", "baseline": "middle", "fontSize": 16, "fontWeight": "bold", "color": "black"},
       "encoding": {"x": {"datum": 54, "type": "quantitative", "axis": null}, "y": {"datum": 0.1315, "type": "quantitative", "axis": null}, "text": {"field": "label"}}},
      {"data": {"name": "remosmooth"}, "mark": {"type": "point", "opacity": 0},
       "encoding": {
        "x": {"field": "t", "type": "quantitative", "axis": {"orient": "top", "values": [100,200,300,400,500,600,700,800,900,1000,1100,1200,1300], "labels": false, "title": null, "tickSize": -5}},
        "y": {"field": "v", "type": "quantitative", "axis": {"orient": "right", "values": [0, 0.025, 0.05, 0.075, 0.1, 0.125, 0.15], "labels": false, "title": null, "tickSize": -5}}
       }}
     ],
     "resolve": {"axis": {"x": "independent", "y": "independent"}}
    },
    {
     "width": 412, "height": 188,
     "layer": [
      {"data": {"values": [{"k": "bg"}]},
       "mark": {"type": "rect", "fill": {"gradient": "linear", "x1": 0, "y1": 0, "x2": 1, "y2": 0, "stops": [{"offset": 0, "color": "#dde9f5"}, {"offset": 0.144, "color": "#dde9f5"}, {"offset": 0.1441, "color": "#e1ecf7"}, {"offset": 0.369, "color": "#c4d9ef"}, {"offset": 0.3691, "color": "#c9dcf0"}, {"offset": 0.595, "color": "#afcbea"}, {"offset": 0.5951, "color": "#b3cfec"}, {"offset": 0.684, "color": "#a5c6e8"}, {"offset": 0.6841, "color": "#a9c9ea"}, {"offset": 0.775, "color": "#9bc0e6"}, {"offset": 0.7751, "color": "#a8c8ea"}, {"offset": 1, "color": "#dbe8f5"}]}},
       "encoding": {"x": {"datum": 0, "type": "quantitative", "scale": {"domain": [0, 1340], "nice": false, "zero": false}, "axis": null}, "x2": {"datum": 1340}}},
      {"data": {"name": "steps"}, "mark": {"type": "rule", "color": "black", "strokeWidth": 1, "strokeDash": [4, 3]},
       "encoding": {"x": {"field": "t", "type": "quantitative", "axis": null}}},
      {"data": {"name": "reraw"}, "mark": {"type": "line", "color": "#a6e8a0", "strokeWidth": 1.3},
       "encoding": {
        "x": {"field": "t", "type": "quantitative", "axis": {"orient": "bottom", "values": [100,200,300,400,500,600,700,800,900,1000,1100,1200,1300],
              "labelExpr": "datum.value % 200 == 100 ? '' + datum.value : ''", "labelFontSize": 17, "labelPadding": 13,
              "title": "Time (s)", "titleFont": "Open Sans", "titleFontSize": 26, "titleFontWeight": "bold", "titlePadding": 10, "tickSize": -5}},
        "y": {"field": "v", "type": "quantitative", "scale": {"domain": [-0.0051, 0.02], "nice": false, "zero": false},
              "axis": {"orient": "left", "values": [0, 0.01, 0.02],
                       "labelExpr": "round(datum.value*100) % 2 == 0 ? replace(format(datum.value, '.2f'), '.', ',') : ''",
                       "tickSize": -5, "labelPadding": 11, "labelFontSize": 17,
                       "title": "(pmol cm² s⁻¹)", "titleFontSize": 25, "titleFontWeight": "bold", "titlePadding": 25}}
       }},
      {"data": {"name": "resmooth"}, "mark": {"type": "line", "color": "#138a13", "strokeWidth": 2},
       "encoding": {"x": {"field": "t", "type": "quantitative", "axis": null}, "y": {"field": "v", "type": "quantitative", "axis": null}}},
      {"data": {"values": [{"label": "Re₀.₂Mo₀.₈S₂"}]}, "mark": {"type": "rect", "fill": "white"},
       "encoding": {"x": {"datum": 16, "type": "quantitative", "axis": null}, "x2": {"datum": 434}, "y": {"datum": 0.01955, "type": "quantitative", "axis": null}, "y2": {"datum": 0.01493}}},
      {"data": {"values": [{"label": "Re₀.₂Mo₀.₈S₂"}]}, "mark": {"type": "text", "align": "left", "baseline": "middle", "fontSize": 16, "fontWeight": "bold", "color": "black"},
       "encoding": {"x": {"datum": 60, "type": "quantitative", "axis": null}, "y": {"datum": 0.01725, "type": "quantitative", "axis": null}, "text": {"field": "label"}}},
      {"data": {"values": [{"label": "Re"}]}, "mark": {"type": "text", "align": "center", "baseline": "alphabetic", "angle": 270, "fontSize": 25, "fontWeight": "bold", "color": "#1c8c1c"},
       "encoding": {"x": {"datum": -340, "type": "quantitative", "axis": null}, "y": {"datum": 0.0058, "type": "quantitative", "axis": null}, "text": {"field": "label"}}},
      {"data": {"name": "resmooth"}, "mark": {"type": "point", "opacity": 0},
       "encoding": {
        "x": {"field": "t", "type": "quantitative", "axis": {"orient": "top", "values": [100,200,300,400,500,600,700,800,900,1000,1100,1200,1300], "labels": false, "title": null, "tickSize": -5}},
        "y": {"field": "v", "type": "quantitative", "axis": {"orient": "right", "values": [0, 0.01, 0.02], "labels": false, "title": null, "tickSize": -5}}
       }}
     ],
     "resolve": {"axis": {"x": "independent", "y": "independent"}}
    }
   ]
  }
 ],
 "spacing": 583,
 "bounds": "flush",
 "config": {
  "font": "Liberation Sans",
  "view": {"stroke": "black", "strokeWidth": 1.5},
  "axis": {"domainColor": "black", "tickColor": "black", "labelColor": "black", "titleColor": "black", "domainWidth": 1.5, "tickWidth": 1.3, "grid": false, "labelFlush": false, "labelOverlap": false, "labelFont": "Liberation Sans", "titleFont": "Liberation Sans"},
  "title": {"color": "black"}
 }
}
